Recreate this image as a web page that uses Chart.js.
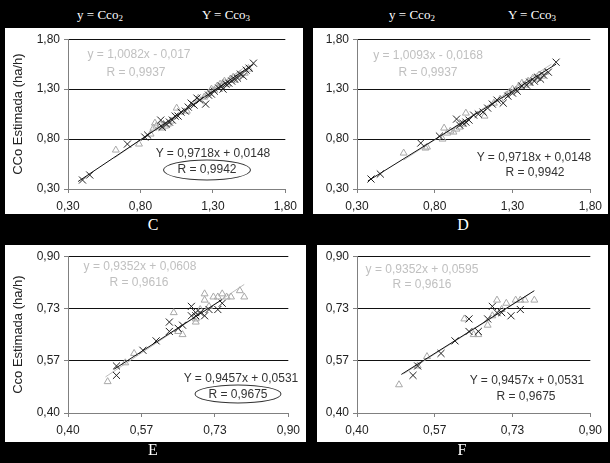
<!DOCTYPE html>
<html>
<head>
<meta charset="utf-8">
<script src="https://cdn.jsdelivr.net/npm/chart.js@4.4.1/dist/chart.umd.min.js"></script>
<style>
  html, body { margin: 0; padding: 0; background: #000; }
  #page { position: relative; width: 610px; height: 463px; background: #000; overflow: hidden;
          font-family: "Liberation Sans", Arial, sans-serif; }
  .panel { position: absolute; background: #fff; }
  .panel canvas { position: absolute; left: 0; top: 0; }
  .head { position: absolute; color: #fff; font-family: "Liberation Serif", serif; font-size: 13px;
          transform: translate(-50%, -50%); white-space: nowrap; }
  .head sub { font-size: 9px; vertical-align: -2px; }
  .letter { position: absolute; color: #fff; font-family: "Liberation Serif", serif; font-size: 16px;
            transform: translate(-50%, -50%); }
  .note { position: absolute; font-size: 12px; transform: translate(-50%, -50%); white-space: nowrap; }
  .gray { color: #c0c0c0; }
  .dark { color: #333; }
  .ring { position: absolute; border: 1px solid #333; border-radius: 50%; transform: translate(-50%, -50%); }
</style>
</head>
<body>
<div id="page">
  <div class="head" style="left:100px;top:15px">y = Cco<sub>2</sub></div>
  <div class="head" style="left:226px;top:15px">Y = Cco<sub>3</sub></div>
  <div class="head" style="left:412px;top:15px">y = Cco<sub>2</sub></div>
  <div class="head" style="left:532px;top:15px">Y = Cco<sub>3</sub></div>

  <div class="panel" id="boxC"><canvas id="chartC"></canvas></div>
  <div class="panel" id="boxD"><canvas id="chartD"></canvas></div>
  <div class="panel" id="boxE"><canvas id="chartE"></canvas></div>
  <div class="panel" id="boxF"><canvas id="chartF"></canvas></div>

  <div class="note gray" style="left:139px;top:54px">y = 1,0082x - 0,017</div>
  <div class="note gray" style="left:136px;top:72px">R = 0,9937</div>
  <div class="note dark" style="left:213px;top:153px">Y = 0,9718x + 0,0148</div>
  <div class="note dark" style="left:207px;top:169px">R = 0,9942</div>
  <div class="ring" style="left:207px;top:170px;width:86px;height:19px"></div>

  <div class="note gray" style="left:428px;top:55px">y = 1,0093x - 0,0168</div>
  <div class="note gray" style="left:428px;top:72px">R = 0,9937</div>
  <div class="note dark" style="left:534px;top:157px">Y = 0,9718x + 0,0148</div>
  <div class="note dark" style="left:535px;top:172px">R = 0,9942</div>

  <div class="note gray" style="left:140px;top:266px">y = 0,9352x + 0,0608</div>
  <div class="note gray" style="left:139px;top:282px">R = 0,9616</div>
  <div class="note dark" style="left:241px;top:378px">Y = 0,9457x + 0,0531</div>
  <div class="note dark" style="left:238px;top:394px">R = 0,9675</div>
  <div class="ring" style="left:238px;top:394px;width:85px;height:17px"></div>

  <div class="note gray" style="left:422px;top:269px">y = 0,9352x + 0,0595</div>
  <div class="note gray" style="left:422px;top:284px">R = 0,9616</div>
  <div class="note dark" style="left:527px;top:380px">Y = 0,9457x + 0,0531</div>
  <div class="note dark" style="left:526px;top:396px">R = 0,9675</div>

  <div class="letter" style="left:153px;top:225px">C</div>
  <div class="letter" style="left:463px;top:225px">D</div>
  <div class="letter" style="left:153px;top:450px">E</div>
  <div class="letter" style="left:462px;top:450px">F</div>
</div>

<script>
"use strict";

// ---------- data ----------
// axis ticks
const ticksCD = [0.30, 0.80, 1.30, 1.80];
const ticksEF = [0.40, 0.40 + 0.5 / 3, 0.40 + 1.0 / 3, 0.90];

// panel C : triangles = Cco2, crosses = Cco3
const c2x = [0.63, 0.79, 0.87, 0.89, 0.90, 0.91, 0.93, 0.94, 0.95, 0.97, 0.99, 1.01, 1.05, 1.12, 1.20, 1.24, 1.27, 1.29, 1.31, 1.33, 1.35, 1.37, 1.38, 1.40, 1.42, 1.44, 1.45, 1.47, 1.49, 1.52, 1.55];
const c2y = [0.69, 0.75, 0.85, 0.91, 0.96, 0.93, 0.92, 0.94, 0.91, 0.93, 0.95, 0.98, 1.11, 1.08, 1.21, 1.22, 1.26, 1.30, 1.29, 1.33, 1.35, 1.36, 1.38, 1.35, 1.40, 1.42, 1.39, 1.43, 1.45, 1.46, 1.50];
const c3x = [0.40, 0.45, 0.71, 0.83, 0.85, 0.94, 0.95, 0.98, 1.00, 1.02, 1.04, 1.06, 1.08, 1.11, 1.13, 1.15, 1.17, 1.19, 1.21, 1.25, 1.27, 1.29, 1.31, 1.34, 1.36, 1.37, 1.39, 1.41, 1.43, 1.45, 1.47, 1.49, 1.51, 1.53, 1.55, 1.58];
const c3y = [0.39, 0.44, 0.75, 0.82, 0.84, 0.99, 0.92, 0.95, 0.97, 0.99, 1.03, 1.03, 1.07, 1.08, 1.12, 1.16, 1.14, 1.21, 1.19, 1.15, 1.24, 1.25, 1.28, 1.31, 1.33, 1.30, 1.35, 1.36, 1.38, 1.40, 1.41, 1.45, 1.43, 1.49, 1.51, 1.56];
const cTrend2x = [0.62, 1.55];
const cTrend2y = [0.61, 1.55];
const cTrend3x = [0.37, 1.58];
const cTrend3y = [0.375, 1.55];

// panel D
const d2x = [0.60, 0.74, 0.75, 0.85, 0.86, 0.88, 0.90, 0.92, 0.94, 0.96, 0.98, 1.00, 1.12, 1.18, 1.22, 1.26, 1.28, 1.30, 1.32, 1.34, 1.36, 1.38, 1.40, 1.41, 1.43, 1.45, 1.47, 1.49, 1.51];
const d2y = [0.66, 0.71, 0.72, 0.80, 0.91, 0.86, 0.88, 0.87, 0.90, 0.92, 0.95, 1.06, 1.03, 1.16, 1.20, 1.24, 1.27, 1.30, 1.29, 1.33, 1.36, 1.34, 1.38, 1.36, 1.41, 1.40, 1.44, 1.43, 1.47];
const d3x = [0.39, 0.45, 0.71, 0.83, 0.94, 0.96, 0.98, 1.00, 1.02, 1.05, 1.08, 1.11, 1.14, 1.17, 1.20, 1.24, 1.27, 1.30, 1.33, 1.36, 1.39, 1.41, 1.44, 1.46, 1.48, 1.50, 1.53, 1.58];
const d3y = [0.40, 0.45, 0.76, 0.83, 1.00, 0.94, 0.96, 0.97, 0.99, 1.04, 1.05, 1.07, 1.11, 1.15, 1.19, 1.16, 1.23, 1.26, 1.28, 1.33, 1.34, 1.37, 1.38, 1.42, 1.40, 1.44, 1.47, 1.57];
const dTrend2x = [0.60, 1.55];
const dTrend2y = [0.59, 1.55];
const dTrend3x = [0.37, 1.58];
const dTrend3y = [0.38, 1.55];

// panel E
const e2x = [0.49, 0.53, 0.55, 0.64, 0.65, 0.66, 0.69, 0.69, 0.70, 0.71, 0.71, 0.72, 0.73, 0.74, 0.75, 0.76, 0.77, 0.79, 0.80];
const e2y = [0.50, 0.56, 0.59, 0.72, 0.66, 0.65, 0.69, 0.70, 0.73, 0.78, 0.76, 0.74, 0.77, 0.77, 0.78, 0.77, 0.77, 0.79, 0.77];
const e3x = [0.51, 0.51, 0.57, 0.60, 0.63, 0.63, 0.65, 0.66, 0.68, 0.68, 0.69, 0.69, 0.70, 0.71, 0.72, 0.74, 0.75];
const e3y = [0.52, 0.55, 0.60, 0.63, 0.69, 0.66, 0.67, 0.68, 0.74, 0.71, 0.71, 0.72, 0.72, 0.71, 0.73, 0.73, 0.75];
const eTrend2x = [0.485, 0.80];
const eTrend2y = [0.515, 0.81];
const eTrend3x = [0.505, 0.75];
const eTrend3y = [0.54, 0.762];

// panel F
const f2x = [0.49, 0.53, 0.55, 0.63, 0.65, 0.66, 0.68, 0.69, 0.70, 0.71, 0.72, 0.74, 0.75, 0.76, 0.78];
const f2y = [0.49, 0.55, 0.58, 0.70, 0.65, 0.65, 0.68, 0.71, 0.76, 0.73, 0.75, 0.76, 0.76, 0.76, 0.76];
const f3x = [0.52, 0.53, 0.58, 0.61, 0.64, 0.64, 0.66, 0.68, 0.69, 0.70, 0.71, 0.73, 0.75];
const f3y = [0.52, 0.55, 0.59, 0.63, 0.70, 0.66, 0.66, 0.70, 0.74, 0.72, 0.72, 0.71, 0.73];
const fTrend2x = [0.50, 0.77];
const fTrend2y = [0.525, 0.78];
const fTrend3x = [0.495, 0.78];
const fTrend3y = [0.523, 0.79];

// ---------- helpers ----------
const pts = (xs, ys) => xs.map((x, i) => ({ x: x, y: ys[i] }));
const fmt = (v) => v.toFixed(2).replace(".", ",");
const tickFont = { family: "'Liberation Sans', Arial, sans-serif", size: 12 };

function makePanel(p) {
    // p.box = [left, top, right, bottom] of the white panel, p.area = plot area, page px
    const box = document.getElementById(p.boxId);
    const w = p.box[2] - p.box[0];
    const h = p.box[3] - p.box[1];
    Object.assign(box.style, { left: p.box[0] + "px", top: p.box[1] + "px", width: w + "px", height: h + "px" });

    const yWidth = p.area[0] - p.box[0];
    const xHeight = p.box[3] - p.area[3];

    new Chart(document.getElementById(p.canvasId), {
        type: "scatter",
        data: {
            datasets: [
                {
                    type: "line", data: pts(p.t2x, p.t2y), borderColor: "#bdbdbd", borderWidth: 1,
                    pointRadius: 0, fill: false, order: 3
                },
                {
                    data: pts(p.s2x, p.s2y), pointStyle: "triangle", pointRadius: 4,
                    borderColor: "#a8a8a8", backgroundColor: "rgba(255,255,255,0)", borderWidth: 1, order: 2
                },
                {
                    data: pts(p.s3x, p.s3y), pointStyle: "crossRot", pointRadius: 5,
                    borderColor: "#222", borderWidth: 1, order: 1
                },
                {
                    type: "line", data: pts(p.t3x, p.t3y), borderColor: "#111", borderWidth: 1,
                    pointRadius: 0, fill: false, order: 0
                }
            ]
        },
        options: {
            responsive: false,
            animation: false,
            events: [],
            layout: { padding: { left: 0, top: p.area[1] - p.box[1], right: p.box[2] - p.area[2], bottom: 0 } },
            plugins: { legend: { display: false }, tooltip: { enabled: false } },
            scales: {
                x: {
                    type: "linear", min: p.ticks[0], max: p.ticks[3],
                    afterBuildTicks: (s) => { s.ticks = p.ticks.map((v) => ({ value: v })); },
                    afterFit: (s) => { s.height = xHeight; },
                    ticks: { callback: fmt, color: "#222", font: tickFont, padding: 6, maxRotation: 0 },
                    grid: { drawOnChartArea: false, color: "#808080", tickLength: 4 },
                    border: { color: "#808080" }
                },
                y: {
                    type: "linear", min: p.ticks[0], max: p.ticks[3],
                    afterBuildTicks: (s) => { s.ticks = p.ticks.map((v) => ({ value: v })); },
                    afterFit: (s) => { s.width = yWidth; },
                    ticks: { callback: fmt, color: "#222", font: tickFont, padding: 4 },
                    grid: {
                        color: (c) => (c.index === 0 ? "rgba(0,0,0,0)" : "#111"),
                        tickColor: "#808080", tickLength: 4
                    },
                    border: { color: "#808080" },
                    title: {
                        display: !!p.yTitle, text: p.yTitle || "", color: "#222",
                        font: { family: "'Liberation Sans', Arial, sans-serif", size: 13 },
                        padding: { top: p.titlePad || 10, bottom: 0 }
                    }
                }
            }
        }
    });
    const cv = document.getElementById(p.canvasId);
    cv.style.width = w + "px";
    cv.style.height = h + "px";
}

// canvas sizes must be set before Chart reads them
function sizeCanvas(id, box) {
    const cv = document.getElementById(id);
    cv.width = box[2] - box[0];
    cv.height = box[3] - box[1];
}

const panels = [
    { boxId: "boxC", canvasId: "chartC", box: [5, 28, 303, 214], area: [68, 38, 290, 189], ticks: ticksCD,
      s2x: c2x, s2y: c2y, s3x: c3x, s3y: c3y, t2x: cTrend2x, t2y: cTrend2y, t3x: cTrend3x, t3y: cTrend3y,
      yTitle: "CCo Estimada (ha/h)", titlePad: 6 },
    { boxId: "boxD", canvasId: "chartD", box: [313, 28, 608, 214], area: [357, 38, 595, 189], ticks: ticksCD,
      s2x: d2x, s2y: d2y, s3x: d3x, s3y: d3y, t2x: dTrend2x, t2y: dTrend2y, t3x: dTrend3x, t3y: dTrend3y },
    { boxId: "boxE", canvasId: "chartE", box: [5, 245, 306, 442], area: [68, 254, 293, 413], ticks: ticksEF,
      s2x: e2x, s2y: e2y, s3x: e3x, s3y: e3y, t2x: eTrend2x, t2y: eTrend2y, t3x: eTrend3x, t3y: eTrend3y,
      yTitle: "Cco Estimada (ha/h)", titlePad: 6 },
    { boxId: "boxF", canvasId: "chartF", box: [317, 245, 608, 442], area: [357, 254, 595, 413], ticks: ticksEF,
      s2x: f2x, s2y: f2y, s3x: f3x, s3y: f3y, t2x: fTrend2x, t2y: fTrend2y, t3x: fTrend3x, t3y: fTrend3y }
];

panels.forEach((p) => {
    sizeCanvas(p.canvasId, p.box);
    makePanel(p);
});
</script>
</body>
</html>
